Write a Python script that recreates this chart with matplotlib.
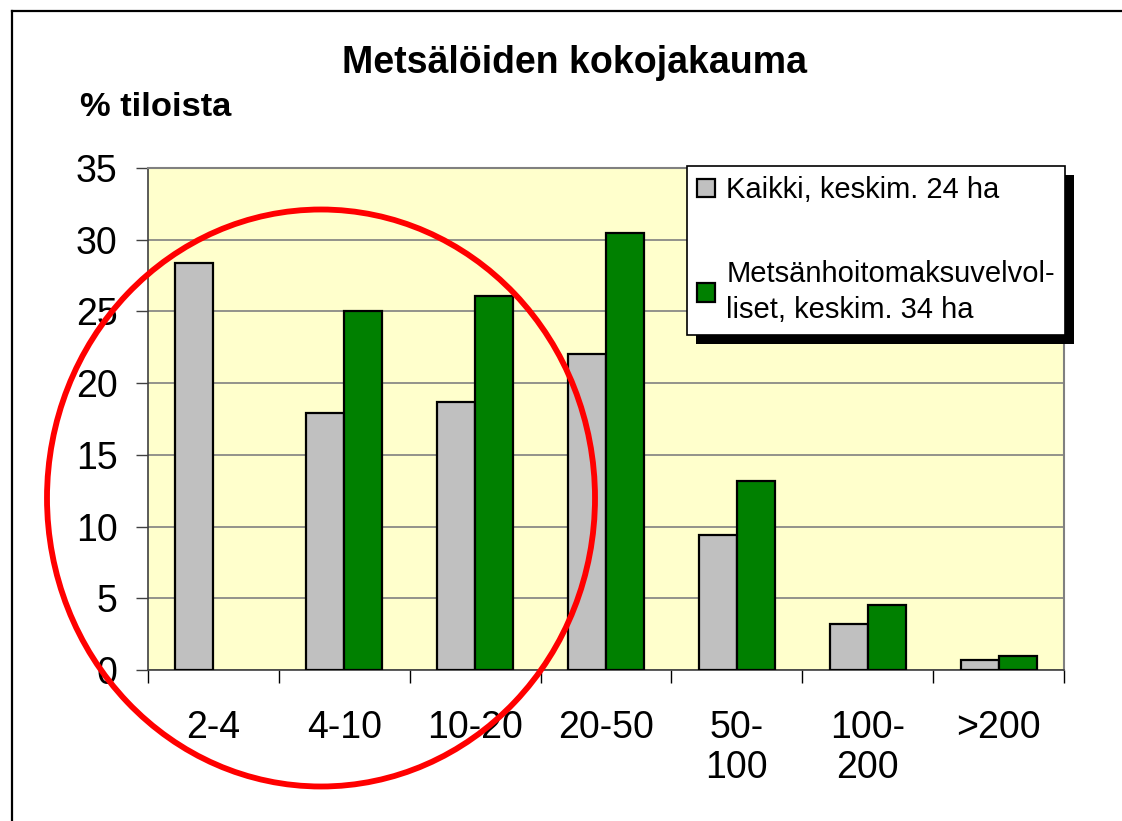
import numpy as np
import matplotlib
matplotlib.use("Agg")
import matplotlib.pyplot as plt
from matplotlib.patches import Ellipse, Rectangle
from matplotlib.lines import Line2D

plt.rcParams["font.family"] = ["Liberation Sans", "DejaVu Sans"]

# ---- data ----
categories = ["2-4", "4-10", "10-20", "20-50", "50-\n100", "100-\n200", ">200"]
kaikki = [28.4, 17.9, 18.7, 22.0, 9.4, 3.2, 0.7]
mhm_velvolliset = [np.nan, 25.0, 26.1, 30.5, 13.2, 4.5, 1.0]
series_labels = ["Kaikki, keskim. 24 ha", "Metsänhoitomaksuvelvol-\nliset, keskim. 34 ha"]
y_ticks = [0, 5, 10, 15, 20, 25, 30, 35]

GRAY = "#C0C0C0"
GREEN = "#008000"
PLOT_BG = "#FFFFCC"
GRID = "#808080"

W, H = 1122, 821
fig = plt.figure(figsize=(W / 100, H / 100), dpi=100)
ax = fig.add_axes((148 / W, 1 - 670 / H, (1064 - 148) / W, (670 - 168) / H))
ax.set_facecolor(PLOT_BG)

x = np.arange(len(categories))
bw = 0.29
ax.bar(x - bw / 2, kaikki, bw, color=GRAY, edgecolor="black", linewidth=1.6,
       label=series_labels[0], zorder=3)
ax.bar(x + bw / 2, mhm_velvolliset, bw, color=GREEN, edgecolor="black", linewidth=1.6,
       label=series_labels[1], zorder=3)

ax.set_xlim(-0.5, len(categories) - 0.5)
ax.set_ylim(0, 35)
ax.set_yticks(y_ticks)
ax.yaxis.grid(True, color=GRID, linewidth=1.2, zorder=0)
ax.set_axisbelow(True)
ax.tick_params(axis="y", length=9, width=1, labelsize=27, pad=13, color="#404040")

# category boundaries get the tick marks, centres get the labels
ax.set_xticks(np.arange(len(categories) + 1) - 0.5)
ax.set_xticklabels([])
ax.set_xticks(x, minor=True)
ax.set_xticklabels(categories, minor=True, fontsize=27, linespacing=1.15)
ax.tick_params(axis="x", which="major", length=9, width=1, color="black")
ax.tick_params(axis="x", which="minor", length=0, pad=29)

for side in ("left", "bottom"):
    ax.spines[side].set_color("#404040")
    ax.spines[side].set_linewidth(1.2)
for side in ("top", "right"):
    ax.spines[side].set_color(GRID)
    ax.spines[side].set_linewidth(1.5)

fig.text(575 / W, 1 - 63 / H, "Metsälöiden kokojakauma", ha="center", va="center",
         fontsize=27, fontweight="bold")
fig.text(80 / W, 1 - 108 / H, "% tiloista", ha="left", va="center",
         fontsize=24.8, fontweight="bold")

leg = ax.legend(loc="upper left", bbox_to_anchor=((687 - 148) / (1064 - 148), (670 - 166) / (670 - 168)),
                fontsize=21, frameon=True, fancybox=False, edgecolor="black",
                framealpha=1, handlelength=0.6, handleheight=0.6, handletextpad=0.4,
                labelspacing=1.9, borderpad=0.35, borderaxespad=0)
leg.get_frame().set_linewidth(1.2)
leg.set_zorder(10)
for t in leg.get_texts():
    t.set_linespacing(1.4)

# hard black drop shadow behind the legend box
fig.canvas.draw()
bb = leg.get_window_extent()
shadow = Rectangle((bb.x0 + 9, bb.y0 - 9), bb.width, bb.height, transform=None,
                   facecolor="black", edgecolor="none", zorder=9, clip_on=False)
ax.add_patch(shadow)

# red hand-drawn style ellipse
fig.add_artist(Ellipse((321 / W, 1 - 498 / H), 548 / W, 577 / H, transform=fig.transFigure,
                       fill=False, edgecolor="#FF0000", linewidth=4.2, zorder=20))

# slide frame (left and top edges visible)
fig.add_artist(Line2D([12 / W, 12 / W], [0, 1 - 11 / H], transform=fig.transFigure,
                      color="black", linewidth=1.6))
fig.add_artist(Line2D([12 / W, 1], [1 - 11 / H, 1 - 11 / H], transform=fig.transFigure,
                      color="black", linewidth=1.6))

fig.savefig("out.png", dpi=100)
